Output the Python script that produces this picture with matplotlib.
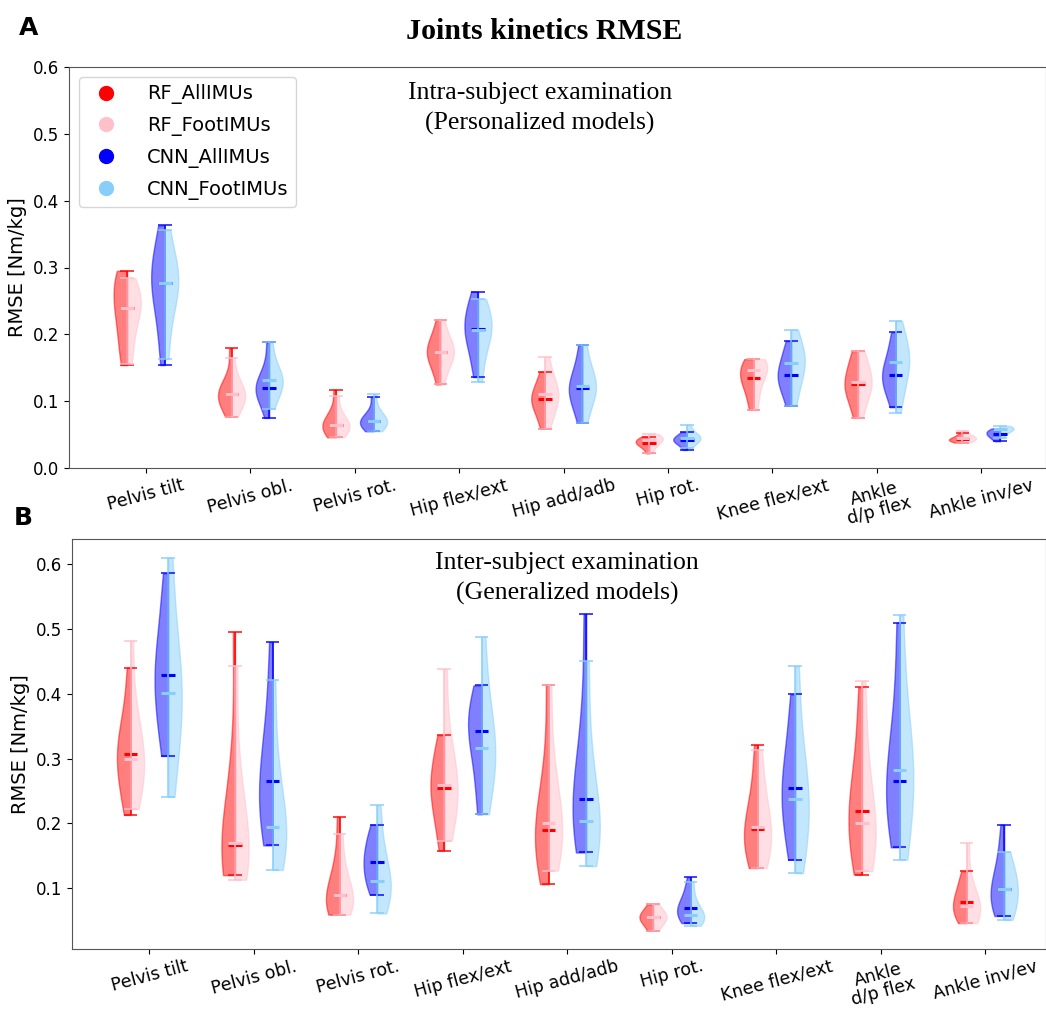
import matplotlib
matplotlib.use("Agg")
from matplotlib import pyplot as plt
from matplotlib.lines import Line2D
import numpy as np

joints = ["Pelvis tilt", "Pelvis obl.", "Pelvis rot.", "Hip flex/ext", "Hip add/adb",
          "Hip rot.", "Knee flex/ext", "Ankle\nd/p flex", "Ankle inv/ev"]
models = ["RF_AllIMUs", "RF_FootIMUs", "CNN_AllIMUs", "CNN_FootIMUs"]
colors = ["red", "pink", "blue", "lightskyblue"]

# per-subject RMSE [Nm/kg], intra-subject (personalized models)
intra_rf_all = [
    [0.154, 0.175, 0.205, 0.228, 0.240, 0.258, 0.275, 0.288, 0.295],
    [0.077, 0.092, 0.101, 0.106, 0.110, 0.114, 0.121, 0.135, 0.179],
    [0.046, 0.052, 0.058, 0.062, 0.065, 0.069, 0.075, 0.088, 0.117],
    [0.125, 0.148, 0.160, 0.168, 0.174, 0.180, 0.188, 0.200, 0.222],
    [0.059, 0.078, 0.090, 0.098, 0.103, 0.108, 0.116, 0.128, 0.144],
    [0.022, 0.030, 0.034, 0.036, 0.038, 0.040, 0.042, 0.044, 0.047],
    [0.087, 0.105, 0.120, 0.130, 0.135, 0.142, 0.150, 0.158, 0.163],
    [0.075, 0.098, 0.110, 0.120, 0.126, 0.134, 0.145, 0.160, 0.175],
    [0.038, 0.040, 0.041, 0.042, 0.043, 0.044, 0.046, 0.048, 0.052],
]
intra_rf_foot = [
    [0.156, 0.185, 0.210, 0.230, 0.240, 0.248, 0.256, 0.268, 0.284],
    [0.077, 0.090, 0.100, 0.106, 0.110, 0.115, 0.122, 0.136, 0.165],
    [0.046, 0.053, 0.058, 0.061, 0.064, 0.068, 0.074, 0.085, 0.108],
    [0.125, 0.150, 0.162, 0.169, 0.174, 0.179, 0.186, 0.198, 0.222],
    [0.059, 0.080, 0.093, 0.103, 0.110, 0.116, 0.125, 0.140, 0.166],
    [0.022, 0.031, 0.036, 0.040, 0.042, 0.044, 0.046, 0.048, 0.051],
    [0.087, 0.108, 0.125, 0.138, 0.146, 0.150, 0.155, 0.160, 0.163],
    [0.075, 0.098, 0.112, 0.122, 0.128, 0.135, 0.146, 0.160, 0.175],
    [0.038, 0.040, 0.042, 0.044, 0.045, 0.046, 0.048, 0.051, 0.056],
]
intra_cnn_all = [
    [0.154, 0.200, 0.240, 0.265, 0.277, 0.290, 0.305, 0.330, 0.363],
    [0.075, 0.098, 0.110, 0.115, 0.119, 0.124, 0.132, 0.148, 0.188],
    [0.055, 0.060, 0.064, 0.067, 0.070, 0.073, 0.077, 0.085, 0.106],
    [0.136, 0.165, 0.185, 0.200, 0.208, 0.218, 0.230, 0.245, 0.264],
    [0.068, 0.090, 0.104, 0.113, 0.119, 0.126, 0.138, 0.155, 0.184],
    [0.027, 0.034, 0.038, 0.040, 0.042, 0.044, 0.046, 0.049, 0.054],
    [0.093, 0.112, 0.125, 0.133, 0.139, 0.147, 0.158, 0.172, 0.190],
    [0.091, 0.112, 0.125, 0.133, 0.139, 0.148, 0.160, 0.178, 0.203],
    [0.040, 0.044, 0.047, 0.049, 0.051, 0.053, 0.055, 0.057, 0.059],
]
intra_cnn_foot = [
    [0.163, 0.215, 0.248, 0.266, 0.277, 0.286, 0.298, 0.320, 0.356],
    [0.089, 0.108, 0.118, 0.125, 0.131, 0.136, 0.144, 0.158, 0.188],
    [0.055, 0.061, 0.065, 0.068, 0.071, 0.074, 0.079, 0.088, 0.110],
    [0.129, 0.162, 0.185, 0.199, 0.207, 0.215, 0.226, 0.240, 0.253],
    [0.068, 0.092, 0.107, 0.116, 0.122, 0.129, 0.140, 0.156, 0.184],
    [0.030, 0.037, 0.041, 0.043, 0.045, 0.047, 0.050, 0.055, 0.065],
    [0.093, 0.118, 0.135, 0.148, 0.157, 0.165, 0.175, 0.190, 0.207],
    [0.083, 0.112, 0.133, 0.148, 0.158, 0.168, 0.180, 0.198, 0.220],
    [0.045, 0.050, 0.054, 0.056, 0.058, 0.059, 0.060, 0.062, 0.063],
]

# inter-subject (generalized models)
inter_rf_all = [
    [0.213, 0.245, 0.272, 0.292, 0.307, 0.320, 0.340, 0.375, 0.440],
    [0.120, 0.130, 0.142, 0.155, 0.166, 0.185, 0.220, 0.300, 0.495],
    [0.059, 0.065, 0.072, 0.080, 0.089, 0.100, 0.118, 0.150, 0.210],
    [0.158, 0.195, 0.220, 0.242, 0.255, 0.268, 0.285, 0.310, 0.336],
    [0.106, 0.140, 0.160, 0.176, 0.189, 0.205, 0.235, 0.290, 0.414],
    [0.034, 0.042, 0.048, 0.052, 0.055, 0.058, 0.062, 0.068, 0.075],
    [0.131, 0.150, 0.165, 0.180, 0.191, 0.205, 0.228, 0.265, 0.321],
    [0.121, 0.150, 0.180, 0.202, 0.219, 0.240, 0.275, 0.330, 0.410],
    [0.046, 0.055, 0.063, 0.071, 0.078, 0.086, 0.096, 0.110, 0.126],
]
inter_rf_foot = [
    [0.222, 0.250, 0.272, 0.288, 0.300, 0.315, 0.338, 0.380, 0.482],
    [0.113, 0.128, 0.142, 0.157, 0.170, 0.190, 0.225, 0.295, 0.443],
    [0.059, 0.066, 0.073, 0.081, 0.089, 0.099, 0.115, 0.140, 0.184],
    [0.173, 0.205, 0.228, 0.245, 0.259, 0.272, 0.295, 0.340, 0.438],
    [0.127, 0.150, 0.170, 0.188, 0.201, 0.218, 0.250, 0.305, 0.414],
    [0.034, 0.042, 0.048, 0.052, 0.055, 0.058, 0.062, 0.068, 0.075],
    [0.131, 0.148, 0.163, 0.180, 0.195, 0.210, 0.232, 0.268, 0.314],
    [0.126, 0.148, 0.168, 0.185, 0.200, 0.225, 0.265, 0.330, 0.420],
    [0.046, 0.052, 0.060, 0.066, 0.072, 0.080, 0.092, 0.115, 0.169],
]
inter_cnn_all = [
    [0.304, 0.345, 0.380, 0.410, 0.429, 0.450, 0.480, 0.530, 0.586],
    [0.166, 0.190, 0.215, 0.242, 0.265, 0.290, 0.325, 0.385, 0.480],
    [0.090, 0.105, 0.118, 0.131, 0.141, 0.152, 0.165, 0.180, 0.198],
    [0.214, 0.260, 0.300, 0.325, 0.342, 0.355, 0.370, 0.390, 0.413],
    [0.155, 0.180, 0.200, 0.220, 0.237, 0.260, 0.300, 0.380, 0.523],
    [0.046, 0.052, 0.058, 0.064, 0.069, 0.075, 0.084, 0.097, 0.117],
    [0.144, 0.180, 0.210, 0.235, 0.254, 0.272, 0.300, 0.345, 0.399],
    [0.163, 0.195, 0.225, 0.248, 0.266, 0.290, 0.330, 0.400, 0.510],
    [0.057, 0.066, 0.078, 0.090, 0.099, 0.112, 0.130, 0.158, 0.198],
]
inter_cnn_foot = [
    [0.241, 0.300, 0.345, 0.378, 0.401, 0.425, 0.460, 0.520, 0.610],
    [0.128, 0.150, 0.168, 0.182, 0.194, 0.215, 0.250, 0.310, 0.422],
    [0.061, 0.075, 0.090, 0.101, 0.111, 0.125, 0.145, 0.175, 0.228],
    [0.214, 0.250, 0.280, 0.302, 0.317, 0.335, 0.365, 0.410, 0.488],
    [0.134, 0.160, 0.178, 0.192, 0.204, 0.225, 0.265, 0.330, 0.450],
    [0.042, 0.047, 0.051, 0.055, 0.058, 0.062, 0.070, 0.085, 0.110],
    [0.123, 0.160, 0.190, 0.218, 0.238, 0.258, 0.290, 0.350, 0.443],
    [0.144, 0.190, 0.228, 0.260, 0.283, 0.305, 0.345, 0.410, 0.521],
    [0.051, 0.062, 0.075, 0.088, 0.099, 0.108, 0.120, 0.135, 0.156],
]

SERIF = "Liberation Serif"
x = np.arange(len(joints))
offsets = [-0.18, -0.18, 0.18, 0.18]
halves = ["low", "high", "low", "high"]


def half_violins(ax, datasets):
    for data, off, half, c in zip(datasets, offsets, halves, colors):
        pos = x + off
        parts = ax.violinplot(data, positions=pos, widths=0.26,
                              showmedians=True, showextrema=True)
        for body, p in zip(parts["bodies"], pos):
            verts = body.get_paths()[0].vertices
            if half == "low":
                verts[:, 0] = np.clip(verts[:, 0], -np.inf, p)
            else:
                verts[:, 0] = np.clip(verts[:, 0], p, np.inf)
            body.set_facecolor(c)
            body.set_edgecolor(c)
            body.set_alpha(0.5)
        for key in ["cmins", "cmaxes", "cbars"]:
            parts[key].set_color(c)
            parts[key].set_linewidth(1.3)
            parts[key].set_alpha(0.8)
        parts["cmedians"].set_color(c)
        parts["cmedians"].set_linewidth(2.2)


def style(ax, xlim):
    ax.set_xticks(x)
    ax.set_xticklabels(joints, rotation=15, fontsize=12.5, linespacing=1.0)
    ax.tick_params(axis="x", pad=2.5)
    ax.set_xlim(*xlim)
    ax.set_ylabel("RMSE [Nm/kg]", fontsize=14)
    ax.tick_params(axis="y", labelsize=12)
    for s in ax.spines.values():
        s.set_color("#555555")


fig = plt.figure(figsize=(10.46, 10.10), dpi=100)
axA = fig.add_axes([69 / 1046, 1 - 468 / 1010, (1046 - 69) / 1046, 401 / 1010])
axB = fig.add_axes([72 / 1046, 1 - 949 / 1010, (1046 - 72) / 1046, 410 / 1010])

half_violins(axA, [intra_rf_all, intra_rf_foot, intra_cnn_all, intra_cnn_foot])
style(axA, (-0.737, 8.62))
axA.set_ylim(0, 0.6)
axA.text(0.482, 0.962, "Intra-subject examination\n(Personalized models)",
         transform=axA.transAxes, ha="center", va="top", fontsize=18.5,
         family=SERIF, linespacing=1.45)

handles = [Line2D([], [], marker="o", linestyle="", markersize=10,
                  markerfacecolor=c, markeredgecolor=c) for c in colors]
axA.legend(handles, models, loc="upper left", fontsize=14,
           handletextpad=1.1, labelspacing=0.6)

half_violins(axB, [inter_rf_all, inter_rf_foot, inter_cnn_all, inter_cnn_foot])
style(axB, (-0.74, 8.58))
axB.set_ylim(0.006, 0.639)
axB.set_yticks([0.1, 0.2, 0.3, 0.4, 0.5, 0.6])
axB.text(0.508, 0.968, "Inter-subject examination\n(Generalized models)",
         transform=axB.transAxes, ha="center", va="top", fontsize=18.5,
         family=SERIF, linespacing=1.45)

fig.text(0.52, 0.969, "Joints kinetics RMSE", ha="center", va="center",
         fontsize=21.5, fontweight="bold", family=SERIF)
fig.text(0.018, 0.972, "A", fontsize=18, fontweight="bold", va="center")
fig.text(0.013, 0.487, "B", fontsize=18, fontweight="bold", va="center")

fig.savefig("out.png", dpi=100)
